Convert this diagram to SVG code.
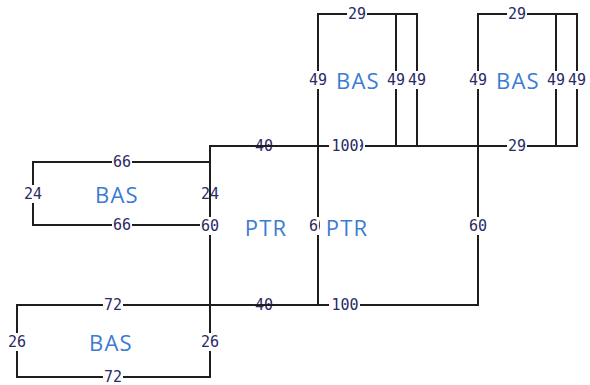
<svg xmlns="http://www.w3.org/2000/svg" width="590" height="385" viewBox="0 0 590 385">
  <style>
    .wall { fill: none; stroke: #1e1e1e; stroke-width: 2; stroke-linecap: square; }
    .bg { fill: #ffffff; }
    .dim { font-family: "DejaVu Sans Mono", "Liberation Mono", monospace; font-size: 15px; fill: #2a2a64; text-anchor: middle; dominant-baseline: central; }
    .room { font-family: "Open Sans", "Noto Sans", "Liberation Sans", sans-serif; font-size: 22px; letter-spacing: 1.2px; fill: #3a7bd5; text-anchor: middle; dominant-baseline: central; }
  </style>
  <rect width="590" height="385" fill="#ffffff"/>

  <g id="connectors">
    <path class="wall" d="M33,162 H210 M33,162 V225 H210"/>
    <path class="wall" d="M210,146 H577 M210,146 V377 M318,146 V305 M17,305 H318 M478,14 V305 H318"/>
    <path class="wall" d="M318,146 V14 H417 V146 M396,14 V146"/>
    <path class="wall" d="M478,14 H577 V146 M556,14 V146"/>
    <path class="wall" d="M17,305 V377 H210"/>
  </g>

  <g id="bas-left">
    <rect class="bg" x="112" y="154" width="20" height="16"/><text class="dim" x="122" y="162">66</text>
    <rect class="bg" x="112" y="217" width="20" height="16"/><text class="dim" x="122" y="225">66</text>
    <rect class="bg" x="23" y="185" width="20" height="18"/><text class="dim" x="33" y="194">24</text>
    <rect class="bg" x="200" y="185" width="20" height="18"/><text class="dim" x="210" y="194">24</text>
    <text class="room" x="117" y="194">BAS</text>
  </g>

  <g id="bas-top-1">
    <rect class="bg" x="347" y="6" width="20" height="16"/><text class="dim" x="357" y="14">29</text>
    <rect class="bg" x="345" y="138" width="20" height="16"/><text class="dim" x="355" y="146">29</text>
    <rect class="bg" x="308" y="71" width="20" height="18"/><text class="dim" x="318" y="80">49</text>
    <rect class="bg" x="387" y="71" width="19" height="18"/><text class="dim" x="396" y="80">49</text>
    <rect class="bg" x="408" y="71" width="19" height="18"/><text class="dim" x="417" y="80">49</text>
    <text class="room" x="358" y="80">BAS</text>
  </g>

  <g id="bas-top-2">
    <rect class="bg" x="507" y="6" width="20" height="16"/><text class="dim" x="517" y="14">29</text>
    <rect class="bg" x="507" y="138" width="20" height="16"/><text class="dim" x="517" y="146">29</text>
    <rect class="bg" x="468" y="71" width="20" height="18"/><text class="dim" x="478" y="80">49</text>
    <rect class="bg" x="547" y="71" width="19" height="18"/><text class="dim" x="556" y="80">49</text>
    <rect class="bg" x="568" y="71" width="19" height="18"/><text class="dim" x="577" y="80">49</text>
    <text class="room" x="518" y="80">BAS</text>
  </g>

  <g id="ptr-1">
    <text class="dim" x="264" y="146">40</text>
    <text class="dim" x="264" y="305">40</text>
    <rect class="bg" x="200" y="217" width="20" height="18"/><text class="dim" x="210" y="226">60</text>
    <rect class="bg" x="308" y="217" width="20" height="18"/><text class="dim" x="318" y="226">60</text>
    <text class="room" x="266" y="227">PTR</text>
  </g>

  <g id="ptr-2">
    <rect class="bg" x="329" y="138" width="31" height="16"/><text class="dim" x="345" y="146">100</text>
    <rect class="bg" x="329" y="297" width="31" height="16"/><text class="dim" x="345" y="305">100</text>
    <rect class="bg" x="468" y="217" width="20" height="18"/><text class="dim" x="478" y="226">60</text>
    <rect class="bg" x="320" y="215" width="52" height="24"/><text class="room" x="347" y="227">PTR</text>
  </g>

  <g id="bas-bottom">
    <rect class="bg" x="103" y="297" width="20" height="16"/><text class="dim" x="113" y="305">72</text>
    <rect class="bg" x="103" y="369" width="20" height="16"/><text class="dim" x="113" y="377">72</text>
    <rect class="bg" x="7" y="333" width="20" height="18"/><text class="dim" x="17" y="342">26</text>
    <rect class="bg" x="200" y="333" width="20" height="18"/><text class="dim" x="210" y="342">26</text>
    <text class="room" x="111" y="342">BAS</text>
  </g>

  <g id="overlay-walls">
    <path class="wall" d="M210,180 V212 M250,146 H280 M250,305 H280"/>
  </g>
</svg>
